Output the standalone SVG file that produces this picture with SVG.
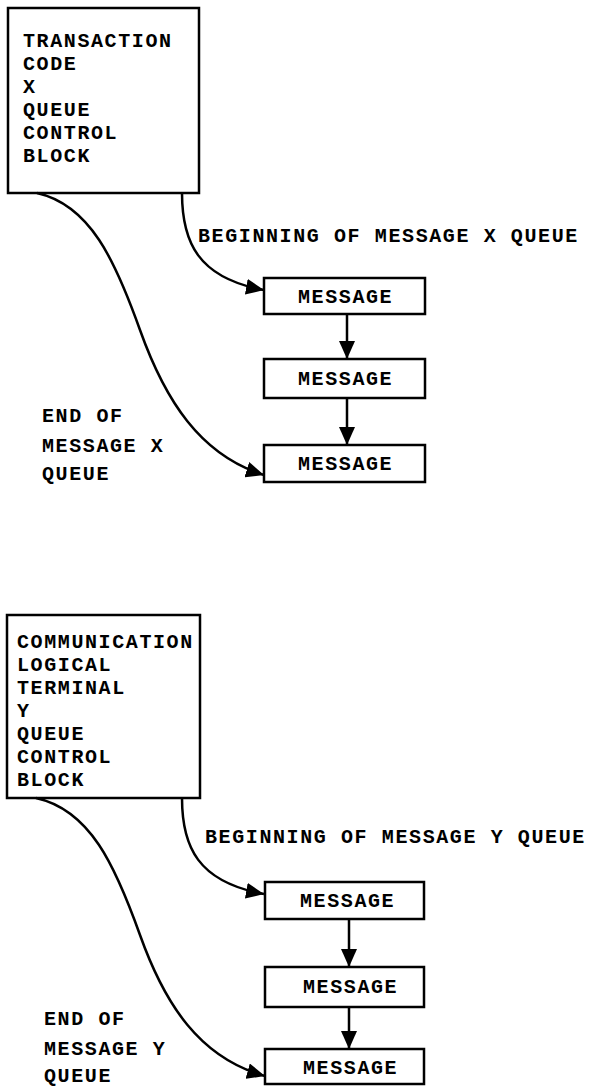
<svg xmlns="http://www.w3.org/2000/svg" width="590" height="1087" viewBox="0 0 590 1087">
<style>
  .box { fill: #fff; stroke: #000; stroke-width: 2.5; }
  .t { font-family: "Liberation Mono", "Courier New", monospace; font-weight: bold; font-size: 20px; letter-spacing: 1.6px; fill: #000; }
  .c { fill: none; stroke: #000; stroke-width: 2.5; }
</style>
<defs>
  <marker id="ah" markerUnits="userSpaceOnUse" markerWidth="20" markerHeight="16" refX="18" refY="8" orient="auto">
    <path d="M0,0 L18,8 L0,16 Z" fill="#000"/>
  </marker>
</defs>

<g id="qcb-x">
  <rect class="box" x="8" y="8" width="191" height="185"/>
  <text class="t" x="23" y="47">TRANSACTION</text>
  <text class="t" x="23" y="70">CODE</text>
  <text class="t" x="23" y="93">X</text>
  <text class="t" x="23" y="116">QUEUE</text>
  <text class="t" x="23" y="139">CONTROL</text>
  <text class="t" x="23" y="162">BLOCK</text>
</g>
<g id="msg-x1"><rect class="box" x="264" y="278" width="161" height="36"/><text class="t" x="298" y="303">MESSAGE</text></g>
<g id="msg-x2"><rect class="box" x="264" y="359" width="161" height="39"/><text class="t" x="298" y="385">MESSAGE</text></g>
<g id="msg-x3"><rect class="box" x="264" y="445" width="161" height="37"/><text class="t" x="298" y="470">MESSAGE</text></g>
<g id="lbl-x">
  <text class="t" x="198" y="242">BEGINNING OF MESSAGE X QUEUE</text>
  <text class="t" x="42" y="422">END OF</text>
  <text class="t" x="42" y="452">MESSAGE X</text>
  <text class="t" x="42" y="480">QUEUE</text>
</g>

<g id="qcb-y">
  <rect class="box" x="7" y="615" width="193" height="183"/>
  <text class="t" x="17" y="648">COMMUNICATION</text>
  <text class="t" x="17" y="671">LOGICAL</text>
  <text class="t" x="17" y="694">TERMINAL</text>
  <text class="t" x="17" y="717">Y</text>
  <text class="t" x="17" y="740">QUEUE</text>
  <text class="t" x="17" y="763">CONTROL</text>
  <text class="t" x="17" y="786">BLOCK</text>
</g>
<g id="msg-y1"><rect class="box" x="265" y="882" width="159" height="37"/><text class="t" x="300" y="907">MESSAGE</text></g>
<g id="msg-y2"><rect class="box" x="265" y="967" width="159" height="40"/><text class="t" x="303" y="993">MESSAGE</text></g>
<g id="msg-y3"><rect class="box" x="265" y="1049" width="159" height="35"/><text class="t" x="303" y="1074">MESSAGE</text></g>
<g id="lbl-y">
  <text class="t" x="44" y="1025">END OF</text>
  <text class="t" x="44" y="1055">MESSAGE Y</text>
  <text class="t" x="44" y="1082">QUEUE</text>
  <text class="t" x="205" y="843">BEGINNING OF MESSAGE Y QUEUE</text>
</g>

<g id="connectors">
  <path class="c" d="M182,193 C182,242 198,278 264,290" marker-end="url(#ah)"/>
  <path class="c" d="M37,193 C90,205 115,260 140,330 C165,400 200,455 264,475" marker-end="url(#ah)"/>
  <path class="c" d="M347,314 L347,359" marker-end="url(#ah)"/>
  <path class="c" d="M347,398 L347,445" marker-end="url(#ah)"/>

  <path class="c" d="M182,798 C182,847 198,882 264,894" marker-end="url(#ah)"/>
  <path class="c" d="M36,798 C90,810 115,865 140,935 C165,1005 200,1058 265,1076" marker-end="url(#ah)"/>
  <path class="c" d="M349,919 L349,967" marker-end="url(#ah)"/>
  <path class="c" d="M349,1007 L349,1049" marker-end="url(#ah)"/>
</g>
</svg>
